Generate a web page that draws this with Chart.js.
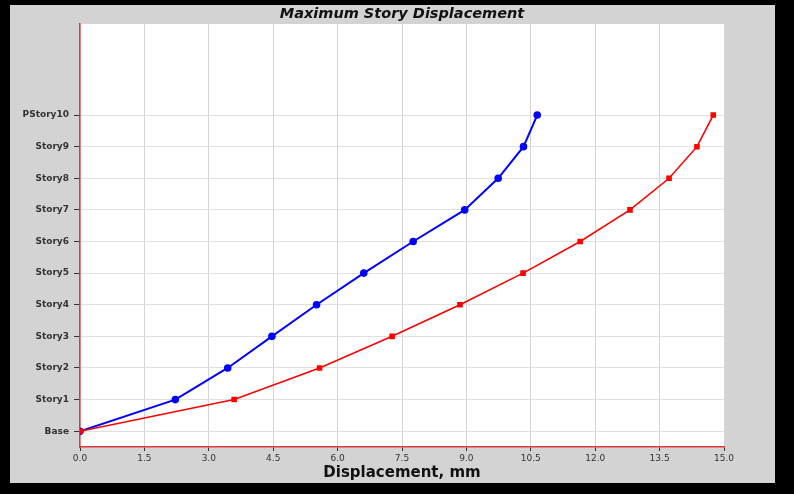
<!DOCTYPE html>
<html>
<head>
<meta charset="utf-8">
<script src="https://cdn.jsdelivr.net/npm/chart.js@4"></script>
<style>
  html, body { margin: 0; padding: 0; background: #000; }
  #wrap { width: 794px; height: 494px; }
</style>
</head>
<body>
<div id="wrap"><canvas id="storyChart" width="794" height="494"></canvas></div>
<script>
// story levels, bottom to top
const stories = ['Base', 'Story1', 'Story2', 'Story3', 'Story4', 'Story5', 'Story6', 'Story7', 'Story8', 'Story9', 'PStory10'];
// displacement per story, mm
const dispBlue = [0, 2.22, 3.44, 4.47, 5.51, 6.61, 7.76, 8.96, 9.74, 10.33, 10.65];
const dispRed  = [0, 3.59, 5.58, 7.27, 8.85, 10.32, 11.65, 12.81, 13.72, 14.37, 14.75];
const xTicks = [0, 1.5, 3, 4.5, 6, 7.5, 9, 10.5, 12, 13.5, 15];

function toPoints(values) {
    return values.map(function (v, i) { return { x: v, y: i }; });
}

const panelBg = {
    id: 'panelBg',
    beforeDraw: function (chart) {
        const c = chart.ctx;
        const a = chart.chartArea;
        c.save();
        c.fillStyle = '#000';
        c.fillRect(0, 0, chart.width, chart.height);
        c.fillStyle = '#d3d3d3';
        c.fillRect(10, 5, 765, 478);
        c.fillStyle = '#fff';
        c.fillRect(a.left, a.top, a.right - a.left, a.bottom - a.top);
        c.restore();
    }
};

const ctx = document.getElementById('storyChart').getContext('2d');
new Chart(ctx, {
    type: 'line',
    data: {
        datasets: [
            {
                label: 'Y',
                data: toPoints(dispRed),
                borderColor: '#ff0000',
                backgroundColor: '#ff0000',
                borderWidth: 1.6,
                pointStyle: 'rect',
                pointRadius: 2.8,
                pointHoverRadius: 2.8,
                tension: 0,
                fill: false
            },
            {
                label: 'X',
                data: toPoints(dispBlue),
                borderColor: '#0000ff',
                backgroundColor: '#0000ff',
                borderWidth: 2,
                pointStyle: 'circle',
                pointRadius: 2.8,
                pointHoverRadius: 2.8,
                tension: 0,
                fill: false
            }
        ]
    },
    options: {
        responsive: false,
        animation: false,
        layout: { padding: { left: 10, right: 70, top: 0, bottom: 11 } },
        plugins: {
            legend: { display: false },
            tooltip: { enabled: false },
            title: {
                display: true,
                text: 'Maximum Story Displacement',
                fullSize: false,
                color: '#111',
                font: { family: 'DejaVu Sans', size: 14.5, weight: 'bold', style: 'italic', lineHeight: 1.2 },
                padding: { top: 6, bottom: 0.6 }
            }
        },
        scales: {
            x: {
                type: 'linear',
                min: 0,
                max: 15,
                afterBuildTicks: function (axis) {
                    axis.ticks = xTicks.map(function (v) { return { value: v }; });
                },
                afterFit: function (scale) { scale.height = 36; },
                grid: { color: '#d4d4d4', tickColor: '#333', tickLength: 4, lineWidth: 1 },
                border: { color: '#e53935', width: 1.5 },
                ticks: {
                    color: '#333',
                    padding: 2,
                    maxRotation: 0,
                    font: { family: 'DejaVu Sans', size: 9 },
                    callback: function (value) { return value.toFixed(1); }
                },
                title: {
                    display: true,
                    text: 'Displacement, mm',
                    color: '#111',
                    font: { family: 'DejaVu Sans', size: 15, weight: 'bold' },
                    padding: { top: 0, bottom: 0.5 }
                }
            },
            y: {
                type: 'linear',
                min: -0.5,
                max: 12.88,
                afterBuildTicks: function (axis) {
                    axis.ticks = stories.map(function (s, i) { return { value: i }; });
                },
                afterFit: function (scale) { scale.width = 70; },
                grid: { color: '#e0e0e0', tickColor: '#333', tickLength: 6, lineWidth: 1 },
                border: { color: '#e53935', width: 1.5 },
                ticks: {
                    color: '#333',
                    padding: 5,
                    font: { family: 'DejaVu Sans', size: 9, weight: 'bold' },
                    callback: function (value) { return stories[value]; }
                }
            }
        }
    },
    plugins: [panelBg]
});
</script>
</body>
</html>
